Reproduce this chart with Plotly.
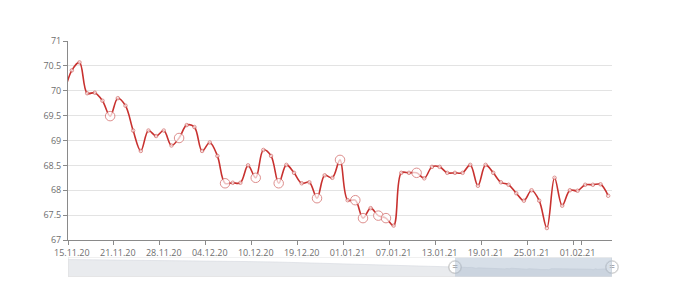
import numpy as np
import plotly.graph_objects as go

# ---------------- data ----------------
dates = [
    "14.11.20", "15.11.20", "16.11.20", "17.11.20", "18.11.20", "19.11.20", "20.11.20",
    "21.11.20", "22.11.20", "24.11.20", "25.11.20", "26.11.20", "27.11.20",
    "28.11.20", "29.11.20", "30.11.20", "01.12.20", "02.12.20", "03.12.20",
    "04.12.20", "05.12.20", "06.12.20", "07.12.20", "08.12.20", "09.12.20",
    "10.12.20", "11.12.20", "12.12.20", "15.12.20", "16.12.20", "17.12.20",
    "19.12.20", "22.12.20", "23.12.20", "24.12.20", "26.12.20", "29.12.20",
    "01.01.21", "02.01.21", "03.01.21", "04.01.21", "05.01.21", "06.01.21",
    "07.01.21", "08.01.21", "09.01.21", "10.01.21", "11.01.21", "12.01.21",
    "13.01.21", "14.01.21", "15.01.21", "16.01.21", "17.01.21", "18.01.21",
    "19.01.21", "20.01.21", "21.01.21", "22.01.21", "23.01.21", "24.01.21",
    "25.01.21", "26.01.21", "27.01.21", "28.01.21", "29.01.21", "30.01.21",
    "01.02.21", "02.02.21", "03.02.21", "04.02.21", "05.02.21",
]

rates = [
    69.95,
    70.41, 70.57, 69.95, 69.96, 69.80, 69.49, 69.85, 69.70, 69.20, 68.79,
    69.20, 69.09, 69.20, 68.90, 69.05, 69.31, 69.27, 68.79, 68.96, 68.69,
    68.14, 68.15, 68.15, 68.50, 68.25, 68.81, 68.69, 68.14, 68.51, 68.35,
    68.14, 68.16, 67.84, 68.30, 68.25, 68.61, 67.80, 67.80, 67.44, 67.64,
    67.49, 67.44, 67.29, 68.35, 68.35, 68.35, 68.24, 68.47, 68.47, 68.35,
    68.35, 68.35, 68.51, 68.09, 68.51, 68.35, 68.16, 68.11, 67.94, 67.79,
    68.00, 67.79, 67.24, 68.25, 67.69, 68.00, 67.99, 68.11, 68.11, 68.12,
    67.89,
]

highlight_dates = [
    "20.11.20", "30.11.20", "06.12.20", "10.12.20", "15.12.20", "23.12.20",
    "29.12.20", "02.01.21", "03.01.21", "05.01.21", "06.01.21", "10.01.21",
]

tick_labels = [
    "15.11.20", "21.11.20", "28.11.20", "04.12.20", "10.12.20", "19.12.20",
    "01.01.21", "07.01.21", "13.01.21", "19.01.21", "25.01.21", "01.02.21",
]

y_ticks = [67, 67.5, 68, 68.5, 69, 69.5, 70, 70.5, 71]

# overview (data-zoom shadow) levels for the earlier, hidden part of the series
overview_early = [77.8, 77.6, 77.3, 77.0, 76.7, 76.5, 76.1, 75.7,
                  75.3, 74.6, 74.0, 73.3, 72.6, 71.8, 71.0, 70.4]

# ---------------- styling ----------------
RED = "#c8312f"
GREY_TXT = "#6e6e6e"
AXIS = "#8a8a8a"
GRID = "#e3e3e3"
FONT = "Open Sans"

sizes = [9.5 if d in highlight_dates else 3.5 for d in dates]

fig = go.Figure()

fig.add_trace(go.Scatter(
    x=dates, y=rates, mode="lines+markers",
    line=dict(color=RED, width=1.6, shape="spline", smoothing=1.0),
    marker=dict(size=sizes, color="white", line=dict(color="#d0605e", width=1)),
    cliponaxis=True, hoverinfo="x+y", showlegend=False,
))

# ---- data zoom slider ----
n_vis = len(rates) - 1
early_n = 175
early_x = np.linspace(0, early_n, len(overview_early))
vis_x = early_n + np.arange(n_vis) + 0.5
shadow_x = list(early_x) + list(vis_x)
shadow_y = list(overview_early) + list(rates[1:])

fig.add_trace(go.Scatter(
    x=shadow_x, y=shadow_y, xaxis="x2", yaxis="y2", mode="lines",
    line=dict(color="#d5d9df", width=0.6), fill="tozeroy",
    fillcolor="#e9ebee", hoverinfo="skip", showlegend=False,
))

slider_mid = 70.0
fig.add_trace(go.Scatter(
    x=[early_n, early_n + n_vis], y=[slider_mid, slider_mid],
    xaxis="x2", yaxis="y2", mode="markers",
    marker=dict(size=14, color="rgba(0,0,0,0.12)", line=dict(width=0)),
    cliponaxis=False, hoverinfo="skip", showlegend=False,
))
fig.add_trace(go.Scatter(
    x=[early_n, early_n + n_vis], y=[slider_mid, slider_mid],
    xaxis="x2", yaxis="y2", mode="markers+text", text=["=", "="],
    textposition="middle center",
    textfont=dict(size=10, color="#666", family=FONT),
    marker=dict(size=12, color="white", line=dict(color="#c4c4c4", width=0.8)),
    cliponaxis=False, hoverinfo="skip", showlegend=False,
))

fig.update_layout(
    width=680, height=281,
    margin=dict(l=68, r=68, t=41, b=4, autoexpand=False),
    paper_bgcolor="white", plot_bgcolor="white",
    font=dict(family=FONT, size=9, color=GREY_TXT),
    xaxis=dict(
        type="category", range=[0.5, len(dates) - 0.5],
        tickmode="array", tickvals=tick_labels, ticktext=tick_labels,
        tickson="boundaries", ticks="outside", ticklen=4, tickcolor=AXIS,
        tickangle=0, automargin=False, ticklabelstandoff=4,
        showline=True, linecolor=AXIS, linewidth=1, showgrid=False,
        zeroline=False, anchor="y", domain=[0, 1],
        tickfont=dict(size=9, color=GREY_TXT),
    ),
    yaxis=dict(
        range=[67, 71], tickvals=y_ticks, ticks="outside", ticklen=4,
        tickcolor=AXIS, showline=True, linecolor=AXIS, linewidth=1,
        showgrid=True, gridcolor=GRID, gridwidth=1, zeroline=False,
        automargin=False,
        domain=[0.1568, 1.0], tickfont=dict(size=9, color=GREY_TXT),
    ),
    xaxis2=dict(range=[0, early_n + n_vis], domain=[0, 1], anchor="y2",
                visible=False, fixedrange=True),
    yaxis2=dict(range=[60, 80], domain=[0.001, 0.083], anchor="x2",
                visible=False, fixedrange=True),
    shapes=[
        dict(type="rect", xref="x2", yref="y2", x0=0, x1=early_n + n_vis,
             y0=60, y1=80, line=dict(color="#dddddd", width=1),
             fillcolor="rgba(0,0,0,0)", layer="above"),
        dict(type="rect", xref="x2", yref="y2", x0=early_n,
             x1=early_n + n_vis, y0=60, y1=80, line=dict(width=0),
             fillcolor="rgba(167,183,204,0.45)", layer="above"),
    ],
)

fig.write_html("out.html")
